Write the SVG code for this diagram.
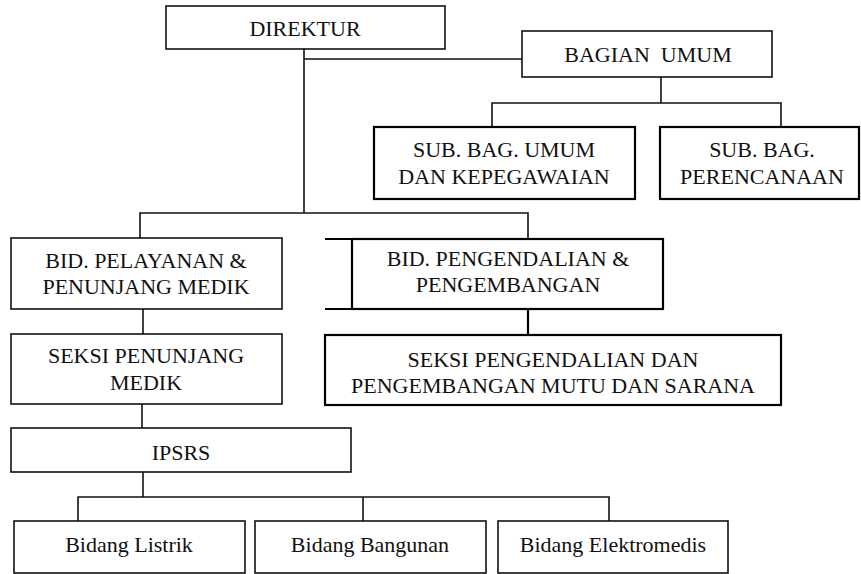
<svg xmlns="http://www.w3.org/2000/svg" width="861" height="574" viewBox="0 0 861 574">
  <style>
    .box { fill: #ffffff; stroke: #111111; stroke-width: 1.6; }
    .box-bold { fill: #ffffff; stroke: #000000; stroke-width: 2.2; }
    .edge { fill: none; stroke: #111111; stroke-width: 1.6; }
    .edge-bold { fill: none; stroke: #000000; stroke-width: 2.2; }
    .lbl { font-family: "Liberation Serif", "Times New Roman", serif; font-size: 22px; fill: #111111; text-anchor: middle; }
  </style>
  <rect width="861" height="574" fill="#ffffff"/>

  <!-- connectors -->
  <g id="connectors">
    <!-- Direktur trunk and branch to Bagian Umum -->
    <path class="edge" d="M304,49 V213"/>
    <path class="edge" d="M304,59 H522"/>
    <!-- Bagian Umum to sub-bagian -->
    <path class="edge" d="M661,77 V103"/>
    <path class="edge" d="M492,127 V103 H781 V127"/>
    <!-- trunk to bidang -->
    <path class="edge" d="M140,238 V213 H528 V239"/>
    <!-- Bid. Pelayanan chain -->
    <path class="edge" d="M143,309 V334"/>
    <path class="edge" d="M142,404 V428"/>
    <path class="edge" d="M143,472 V497"/>
    <!-- IPSRS to bidang units -->
    <path class="edge" d="M78,521 V497 H609 V521"/>
    <path class="edge" d="M363,497 V521"/>
    <!-- Bid. Pengendalian to Seksi -->
    <path class="edge-bold" d="M528,309 V335"/>
  </g>

  <g id="direktur">
    <rect class="box" x="166" y="6" width="279" height="43"/>
    <text class="lbl" x="305" y="36">DIREKTUR</text>
  </g>

  <g id="bagian-umum">
    <rect class="box" x="522" y="31" width="250" height="46"/>
    <text class="lbl" x="648" y="62" xml:space="preserve">BAGIAN  UMUM</text>
  </g>

  <g id="subbag-umum">
    <rect class="box-bold" x="374" y="127" width="261" height="72"/>
    <text class="lbl" x="504" y="157">SUB. BAG. UMUM</text>
    <text class="lbl" x="504" y="184">DAN KEPEGAWAIAN</text>
  </g>

  <g id="subbag-perencanaan">
    <rect class="box-bold" x="660" y="127" width="199" height="72"/>
    <text class="lbl" x="762" y="157">SUB. BAG.</text>
    <text class="lbl" x="762" y="184">PERENCANAAN</text>
  </g>

  <g id="bid-pelayanan">
    <rect class="box" x="11" y="238" width="271" height="71"/>
    <text class="lbl" x="146" y="268">BID. PELAYANAN &amp;</text>
    <text class="lbl" x="146" y="294">PENUNJANG MEDIK</text>
  </g>

  <g id="bid-pengendalian">
    <rect class="box-bold" x="352" y="239" width="311" height="70"/>
    <path class="edge-bold" d="M325,239 H352 M325,309 H352"/>
    <text class="lbl" x="508" y="266">BID. PENGENDALIAN &amp;</text>
    <text class="lbl" x="508" y="292">PENGEMBANGAN</text>
  </g>

  <g id="seksi-penunjang">
    <rect class="box" x="11" y="334" width="271" height="70"/>
    <text class="lbl" x="146" y="363">SEKSI PENUNJANG</text>
    <text class="lbl" x="146" y="390">MEDIK</text>
  </g>

  <g id="seksi-pengendalian">
    <rect class="box-bold" x="325" y="335" width="456" height="70"/>
    <text class="lbl" x="553" y="367">SEKSI PENGENDALIAN DAN</text>
    <text class="lbl" x="553" y="393">PENGEMBANGAN MUTU DAN SARANA</text>
  </g>

  <g id="ipsrs">
    <rect class="box" x="11" y="428" width="340" height="44"/>
    <text class="lbl" x="181" y="460">IPSRS</text>
  </g>

  <g id="bidang-listrik">
    <rect class="box" x="14" y="521" width="231" height="52"/>
    <text class="lbl" x="129" y="552">Bidang Listrik</text>
  </g>

  <g id="bidang-bangunan">
    <rect class="box" x="255" y="521" width="231" height="52"/>
    <text class="lbl" x="370" y="552">Bidang Bangunan</text>
  </g>

  <g id="bidang-elektromedis">
    <rect class="box" x="498" y="521" width="230" height="52"/>
    <text class="lbl" x="613" y="552">Bidang Elektromedis</text>
  </g>
</svg>
